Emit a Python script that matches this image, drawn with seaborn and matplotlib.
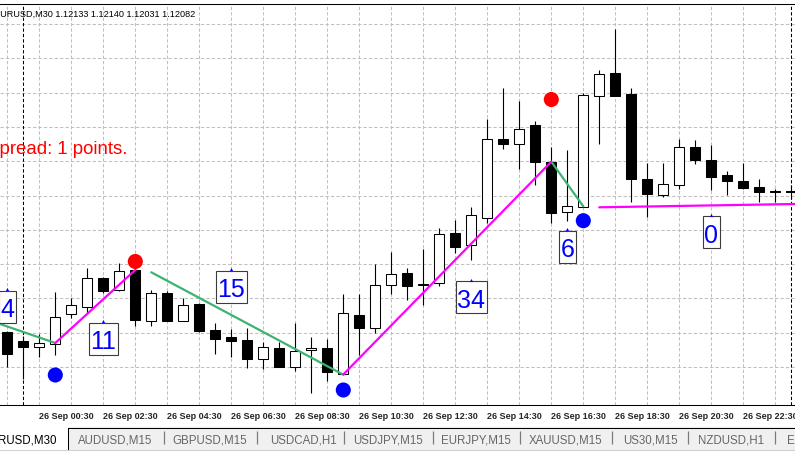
import numpy as np
import pandas as pd
import matplotlib
matplotlib.use("Agg")
import matplotlib.pyplot as plt
from matplotlib.patches import Rectangle
from matplotlib.path import Path
import seaborn as sns

# EURUSD M30 bars, bar 0 = 25 Sep 23:30, one bar every 30 min
opens = [1.12067, 1.12058, 1.120525, 1.120555, 1.12085, 1.120925, 1.121215, 1.121095, 1.12129, 1.120785,
         1.121065, 1.120785, 1.12095, 1.120695, 1.12062, 1.12059, 1.120405, 1.120515, 1.120325, 1.12049,
         1.120515, 1.120255, 1.12084, 1.120715, 1.121145, 1.121265, 1.12115, 1.121165, 1.121665, 1.12154,
         1.121815, 1.122605, 1.122555, 1.12274, 1.122375, 1.121875, 1.121925, 1.123035, 1.12326, 1.123055,
         1.1222, 1.122045, 1.122145, 1.122525, 1.122395, 1.12224, 1.122185, 1.122125, 1.122075, 1.122085]
highs = [1.12068, 1.12063, 1.12065, 1.121075, 1.12101, 1.121315, 1.12122, 1.12136, 1.12134, 1.12109,
         1.121085, 1.121015, 1.12096, 1.12076, 1.1207, 1.120715, 1.120575, 1.120575, 1.12076, 1.120625,
         1.1206, 1.12105, 1.12105, 1.12135, 1.121475, 1.121315, 1.1215, 1.121715, 1.121795, 1.121925,
         1.122805, 1.123115, 1.122985, 1.122785, 1.122525, 1.122495, 1.123065, 1.123295, 1.1237, 1.123115,
         1.12236, 1.12236, 1.1226, 1.122595, 1.12254, 1.122285, 1.122365, 1.122205, 1.122105, 1.12214]
lows = [1.12032, 1.12020, 1.12042, 1.12044, 1.12081, 1.120865, 1.12106, 1.12108, 1.120735, 1.120735,
        1.12078, 1.12078, 1.12067, 1.12045, 1.120425, 1.120315, 1.120305, 1.12032, 1.120285, 1.120065,
        1.120185, 1.12025, 1.12044, 1.12066, 1.12105, 1.120995, 1.12094, 1.121135, 1.121465, 1.121395,
        1.12176, 1.122505, 1.122305, 1.12214, 1.12176, 1.121785, 1.121925, 1.12255, 1.12303, 1.121975,
        1.121825, 1.122025, 1.1221, 1.12235, 1.122095, 1.122045, 1.1221, 1.121975, 1.121975, 1.1220]
closes = [1.12045, 1.12052, 1.12056, 1.120825, 1.12094, 1.121215, 1.121085, 1.121285, 1.120795, 1.121065,
          1.120785, 1.120945, 1.120685, 1.120605, 1.120585, 1.120405, 1.120525, 1.120325, 1.120485, 1.120515,
          1.120275, 1.12086, 1.12071, 1.121145, 1.121255, 1.121135, 1.121145, 1.12165, 1.121525, 1.12184,
          1.122605, 1.122555, 1.122705, 1.122375, 1.121865, 1.121935, 1.12304, 1.12325, 1.123035, 1.1222,
          1.12205, 1.12215, 1.122525, 1.122395, 1.122225, 1.122185, 1.122115, 1.122075, 1.12207, 1.122075]

# time axis labels (bar index of each label)
label_bars = [-2, 2, 6, 10, 14, 18, 22, 26, 30, 34, 38, 42, 46]
time_labels = ["25 Sep 2016", "26 Sep 00:30", "26 Sep 02:30", "26 Sep 04:30", "26 Sep 06:30",
               "26 Sep 08:30", "26 Sep 10:30", "26 Sep 12:30", "26 Sep 14:30", "26 Sep 16:30",
               "26 Sep 18:30", "26 Sep 20:30", "26 Sep 22:30"]
day_start_bars = [1, 49]

# zigzag legs
down_leg = [0, 0, 1, 1, 2, 2]
down_bar = [-1, 3, 9, 21, 34, 36]
down_price = [1.12078, 1.12056, 1.121267, 1.120243, 1.122373, 1.121927]
up_leg = [0, 0, 1, 1, 2, 2]
up_bar = [3, 8, 21, 34, 37, 50]
up_price = [1.12056, 1.12129, 1.120245, 1.122373, 1.121917, 1.121952]

# swing dots
top_bar = [8, 34]
top_price = [1.121375, 1.122995]
bottom_bar = [3, 21, 36]
bottom_price = [1.12024, 1.12009, 1.121783]

# bar counters
count_text = ["4", "11", "15", "34", "6", "0"]
count_bar = [0, 6, 14, 29, 35, 44]
count_price = [1.120925, 1.120605, 1.121125, 1.121017, 1.121525, 1.121667]
count_anchor = [1.1211, 1.12078, 1.1213, 1.12119, 1.1217, 1.12184]

header = "EURUSD,M30 1.12133 1.12140 1.12031 1.12082"
spread_text = "Spread: 1 points."
tabs = ["EURUSD,M30", "AUDUSD,M15", "GBPUSD,M15", "USDCAD,H1", "USDJPY,M15",
        "EURJPY,M15", "XAUUSD,M15", "US30,M15", "NZDUSD,H1", "EURUSD,H4"]

sns.set_style("white")
plt.rcParams['font.family'] = ['Liberation Sans', 'DejaVu Sans']

df = pd.DataFrame({"bar": np.arange(len(opens)), "open": opens, "high": highs,
                   "low": lows, "close": closes})
df["body_low"] = df[["open", "close"]].min(axis=1)
df["body_h"] = (df["close"] - df["open"]).abs().clip(lower=0.000006)
df["fill"] = np.where(df["close"] > df["open"], "white", "black")

fig = plt.figure(figsize=(7.95, 4.56), dpi=100)
fig.patch.set_facecolor("white")
ax = fig.add_axes([0, 50 / 456, 1, 401 / 456])

# grid
grid_style = dict(color="#c0c0c0", linestyle=(0, (3.2, 2.0)), linewidth=0.75)
ax.set_xticks(label_bars)
ax.set_xticklabels(time_labels, fontsize=6.5, fontweight="bold")
ax.set_xticks(range(0, 49, 4), minor=True)
ax.set_yticks(1.12375 - 0.000343 * np.arange(11))
ax.grid(True, which="both", **grid_style)
ax.set_axisbelow(True)
ax.tick_params(axis="x", which="major", length=2.9, width=0.75, color="black", pad=1.3, direction="out")
ax.tick_params(axis="x", which="minor", length=0)
ax.tick_params(axis="y", length=0, labelleft=False)
for lbl in ax.get_xticklabels():
    lbl.set_horizontalalignment("left")

for b in day_start_bars:
    ax.axvline(b, color="black", linestyle=(0, (3.2, 2.0)), linewidth=0.75, zorder=1)

# candles
ax.vlines(df["bar"], df["low"], df["high"], colors="black", linewidth=0.8, zorder=2)
ax.bar(df["bar"], df["body_h"], bottom=df["body_low"], width=0.62, color=df["fill"],
       edgecolor="black", linewidth=0.75, zorder=3)

# zigzag
dn = pd.DataFrame({"bar": down_bar, "price": down_price, "leg": down_leg})
up = pd.DataFrame({"bar": up_bar, "price": up_price, "leg": up_leg})
sns.lineplot(data=dn, x="bar", y="price", units="leg", estimator=None, color="#3cb371",
             linewidth=1.6, ax=ax, legend=False, zorder=4)
sns.lineplot(data=up, x="bar", y="price", units="leg", estimator=None, color="#ff00ff",
             linewidth=1.6, ax=ax, legend=False, zorder=4)

sns.scatterplot(x=top_bar, y=top_price, color="#ff0000", s=118, edgecolor="none", ax=ax, zorder=6)
sns.scatterplot(x=bottom_bar, y=bottom_price, color="#0000ff", s=118, edgecolor="none", ax=ax, zorder=6)


def counter_box(x0, y0, width, height, mutation_size):
    cy = y0 + 0.575 * mutation_size
    hh = 0.64 * mutation_size
    px = 0.06 * mutation_size
    xa, xb = x0 - px, x0 + width + px
    return Path([(xa, cy - hh), (xb, cy - hh), (xb, cy + hh), (xa, cy + hh), (xa, cy - hh)],
                closed=True)


for t, b, p in zip(count_text, count_bar, count_price):
    ax.text(b, p, t, ha="center", va="center_baseline", fontsize=18, color="#0000ff",
            bbox=dict(boxstyle=counter_box, fc="white", ec="#3c3c3c", lw=0.8), zorder=7)
ax.scatter(count_bar, count_anchor, marker="^", s=5, color="#0000ff", linewidths=0, zorder=8)

ax.set_xlim(-7.3 / 16, (795 - 7.3) / 16)
ax.set_ylim(1.124 - 406e-5, 1.124 - 5e-5)
ax.set_xlabel("")
ax.set_ylabel("")
for side in ["left", "right"]:
    ax.spines[side].set_visible(False)
for side in ["top", "bottom"]:
    ax.spines[side].set_color("black")
    ax.spines[side].set_linewidth(0.75)

# window chrome: header, spread, symbol tabs
ui = fig.add_axes([0, 0, 1, 1], zorder=3)
ui.set_xlim(0, 795)
ui.set_ylim(456, 0)
ui.axis("off")
ui.text(-6.2, 16.7, header, fontsize=6.6, va="baseline", color="black")
ui.text(-12.7, 154.3, spread_text, fontsize=13.4, va="baseline", color="#ff0000")

ui.add_patch(Rectangle((0, 428), 795, 23, fc="#f0f0f0", ec="none"))
ui.plot([68, 795], [429.5, 429.5], color="black", lw=0.75)
ui.add_patch(Rectangle((-1, 428), 68.7, 24, fc="white", ec="none"))
ui.plot([67.7, 67.7], [429, 451], color="black", lw=0.75)
ui.plot([0, 795], [451.5, 451.5], color="#d0d0d0", lw=0.75)
tab_x = [56.5, 115.5, 210, 303, 388.3, 475.6, 565.5, 650, 731.3, 786.7]
sep_x = [164.3, 256.7, 344, 432.7, 520, 612.3, 688.3, 775]
ui.vlines(sep_x, 432.5, 445, color="#7a7a7a", lw=0.9)
for i, (t, x) in enumerate(zip(tabs, tab_x)):
    if i == 0:
        ui.text(x, 443.3, t, ha="right", va="baseline", fontsize=8.3, color="black")
    elif i == len(tabs) - 1:
        ui.text(x, 443.3, t, ha="left", va="baseline", fontsize=8.3, color="#666666")
    else:
        ui.text(x, 443.3, t, ha="center", va="baseline", fontsize=8.3, color="#666666")

fig.savefig("out.png", dpi=100)
